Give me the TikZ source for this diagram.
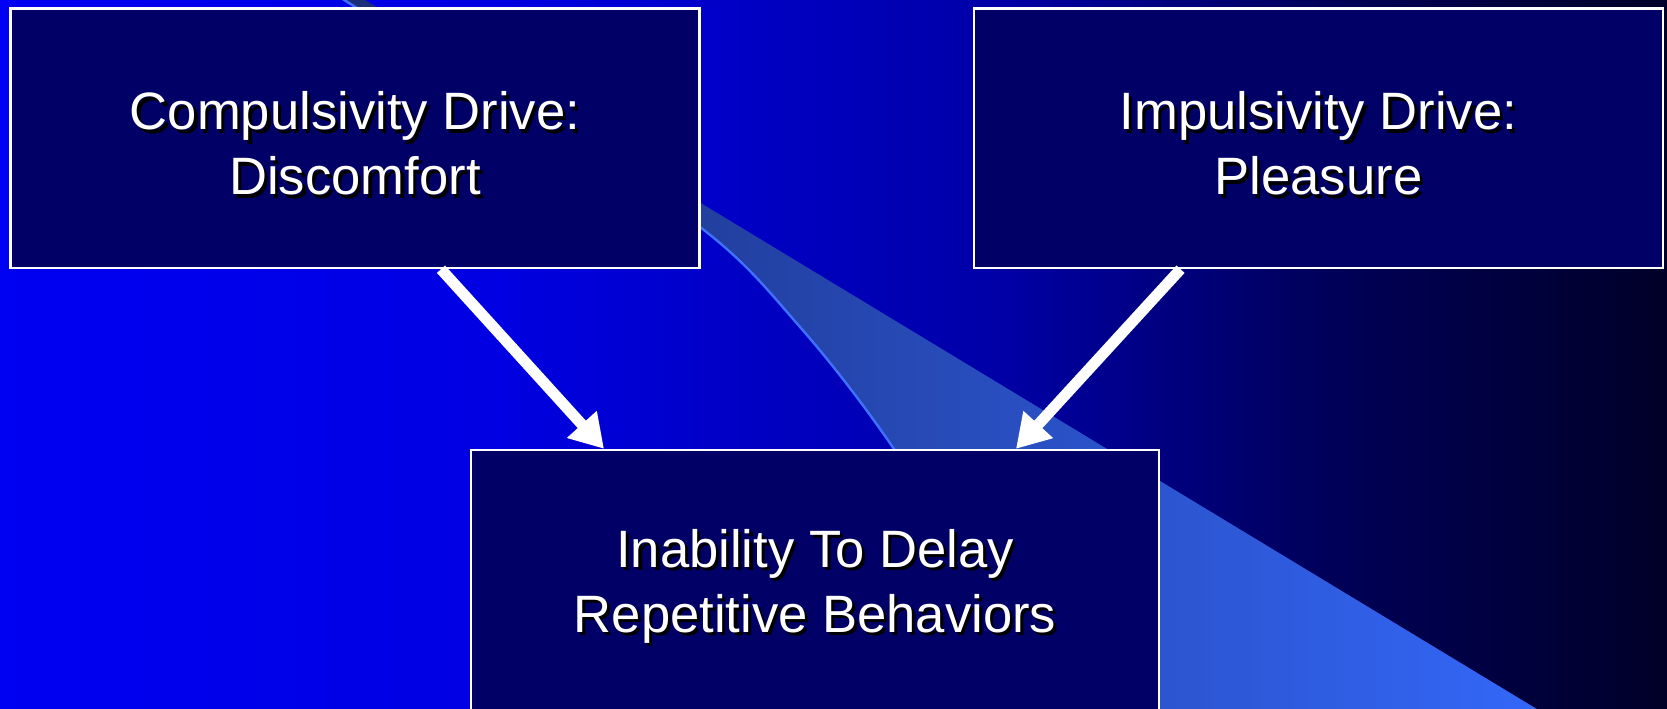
\documentclass[tikz,border=0pt]{standalone}
\usepackage{fontspec}
\setmainfont{Liberation Sans}
\usetikzlibrary{arrows.meta,calc}
\definecolor{boxfill}{HTML}{000066}
\definecolor{bgA}{HTML}{0000F2}
\definecolor{bgB}{HTML}{0000E2}
\definecolor{bgC}{HTML}{0000A6}
\definecolor{bgD}{HTML}{000058}
\definecolor{bgE}{HTML}{000028}
\definecolor{beamL}{HTML}{1A2E78}
\definecolor{beamR}{HTML}{3468FA}
\definecolor{beamedge}{HTML}{3F70FF}
\pgfdeclarehorizontalshading{bgshade}{100bp}{color(0bp)=(bgA); color(25bp)=(bgA); color(40bp)=(bgB); color(55bp)=(bgC); color(65bp)=(bgD); color(75bp)=(bgE); color(100bp)=(bgE)}
\newcommand{\shd}[1]{\makebox[0pt][l]{\kern1.6pt\raisebox{-1.6pt}{\textcolor{black}{#1}}}#1}
\newcommand{\dshd}[1]{\raisebox{-2.5pt}[\height][\depth]{\shd{#1}}}
\begin{document}
\begin{tikzpicture}[x=0.5pt,y=-0.5pt,
  boxnode/.style={draw=white, line width=1.2pt, fill=boxfill, text=white,
    font=\fontsize{26.3}{32.5}\selectfont, align=center, inner sep=0pt, text depth=0pt,
    minimum width=344.5pt, minimum height=129.75pt},
  arr/.style={draw=white, line width=5.5pt, -{Triangle[length=16.5pt,width=19pt]}},
  edgeline/.style={draw=beamedge, line width=1.2pt}]
\useasboundingbox (0,0) rectangle (1667,708);
\clip (0,0) rectangle (1667,708);
\shade[shading=bgshade] (0,0) rectangle (1667,708);
% light beam
\shade[left color=beamL, right color=beamR]
  plot[smooth, tension=0.6] coordinates {(338,-4) (520,112) (700,227) (800,327) (894,449) (980,590) (1050,720)}
  -- (1555,720) -- (357,-5) -- cycle;
\draw[edgeline] plot[smooth, tension=0.6] coordinates {(338,-4) (520,112) (700,227) (800,327) (894,449) (980,590) (1050,720)};
% boxes
\node[boxnode] (b1) at (355,138.25) {\dshd{Compulsivity Drive:}\\\dshd{Discomfort}};
\node[boxnode] (b2) at (1318.5,138.25) {\dshd{Impulsivity Drive:}\\\dshd{Pleasure}};
\node[boxnode, minimum width=344pt, minimum height=131pt] (b3) at (815,581) {\shd{Inability To Delay}\\\shd{Repetitive Behaviors}};
% arrows
\draw[arr] ($(b1.south)+(86,0)$) -- ($(b3.north)+(-211,0)$);
\draw[arr] ($(b2.south)+(-138,0)$) -- ($(b3.north)+(201,0)$);
\end{tikzpicture}
\end{document}
